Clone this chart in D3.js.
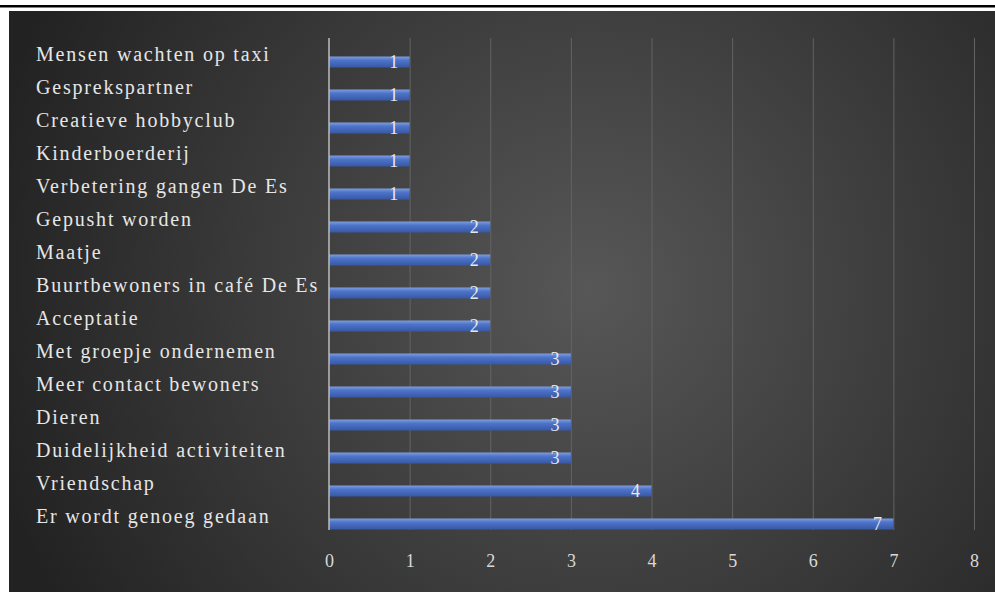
<!DOCTYPE html>
<html>
<head>
<meta charset="utf-8">
<script src="https://cdn.jsdelivr.net/npm/d3@7"></script>
<style>
  html, body { margin: 0; padding: 0; background: #fff; }
  svg { display: block; }
</style>
</head>
<body>
<svg id="chart"></svg>
<script>
const categories = [
  "Mensen wachten op taxi",
  "Gesprekspartner",
  "Creatieve hobbyclub",
  "Kinderboerderij",
  "Verbetering gangen De Es",
  "Gepusht worden",
  "Maatje",
  "Buurtbewoners in café De Es",
  "Acceptatie",
  "Met groepje ondernemen",
  "Meer contact bewoners",
  "Dieren",
  "Duidelijkheid activiteiten",
  "Vriendschap",
  "Er wordt genoeg gedaan"
];
const values = [1, 1, 1, 1, 1, 2, 2, 2, 2, 3, 3, 3, 3, 4, 7];
const xTicks = [0, 1, 2, 3, 4, 5, 6, 7, 8];

const width = 995, height = 592;
const font = "'Liberation Serif', 'DejaVu Serif', serif";

const svg = d3.select("#chart").attr("width", width).attr("height", height);

const defs = svg.append("defs");
const bg = defs.append("radialGradient").attr("id", "bg")
  .attr("gradientUnits", "userSpaceOnUse")
  .attr("cx", 590).attr("cy", 290).attr("r", 620);
bg.append("stop").attr("offset", "0%").attr("stop-color", "#575757");
bg.append("stop").attr("offset", "100%").attr("stop-color", "#222222");

const barGrad = defs.append("linearGradient").attr("id", "bar")
  .attr("x1", 0).attr("y1", 0).attr("x2", 0).attr("y2", 1);
barGrad.append("stop").attr("offset", "0%").attr("stop-color", "#7f9ee0");
barGrad.append("stop").attr("offset", "35%").attr("stop-color", "#4d74c9");
barGrad.append("stop").attr("offset", "100%").attr("stop-color", "#3857a6");

// top rule and chart background
svg.append("rect").attr("x", 0).attr("y", 5).attr("width", width).attr("height", 2.5).attr("fill", "#000");
svg.append("rect").attr("x", 9).attr("y", 11).attr("width", width - 9).attr("height", height - 11).attr("fill", "url(#bg)");

const plot = { left: 329, right: 974, top: 38, bottom: 530 };

const x = d3.scaleLinear().domain([0, 8]).range([plot.left, plot.right]);
const y = d3.scaleBand().domain(categories).range([45.5, 540.5]);

// gridlines
svg.append("g")
  .attr("transform", `translate(0,${plot.bottom})`)
  .call(d3.axisBottom(x).tickValues(xTicks.slice(1)).tickSize(plot.bottom - plot.top).tickFormat(""))
  .call(g => g.select(".domain").remove())
  .call(g => g.selectAll(".tick line").attr("stroke", "#636363").attr("stroke-width", 1)
    .attr("y2", -(plot.bottom - plot.top)));

// x tick labels
svg.append("g")
  .attr("transform", `translate(0,${plot.bottom})`)
  .call(d3.axisBottom(x).tickValues(xTicks).tickSize(0).tickPadding(24).tickFormat(d3.format("d")))
  .call(g => g.select(".domain").remove())
  .call(g => g.selectAll("text").attr("fill", "#d9d9d9").attr("font-family", font).attr("font-size", 18));

// bars
svg.append("g").selectAll("rect")
  .data(values)
  .join("rect")
  .attr("x", x(0))
  .attr("y", (d, i) => y(categories[i]) + y.bandwidth() / 2 - 5.5)
  .attr("width", d => x(d) - x(0))
  .attr("height", 11)
  .attr("fill", "url(#bar)");

// vertical axis line
svg.append("line")
  .attr("x1", x(0)).attr("x2", x(0))
  .attr("y1", plot.top).attr("y2", plot.bottom)
  .attr("stroke", "#bdbdbd").attr("stroke-width", 1.5);

// category labels
svg.append("g").selectAll("text")
  .data(categories)
  .join("text")
  .attr("x", 36)
  .attr("y", d => y(d) + y.bandwidth() / 2 - 1)
  .attr("fill", "#e6e6e6")
  .attr("font-family", font)
  .attr("font-size", 20)
  .attr("letter-spacing", 1.8)
  .text(d => d);

// value labels
svg.append("g").selectAll("text")
  .data(values)
  .join("text")
  .attr("x", d => x(d) - 16)
  .attr("y", (d, i) => y(categories[i]) + y.bandwidth() / 2 + 6)
  .attr("text-anchor", "middle")
  .attr("fill", "#e8e8e8")
  .attr("font-family", font)
  .attr("font-size", 18)
  .text(d => d);
</script>
</body>
</html>
